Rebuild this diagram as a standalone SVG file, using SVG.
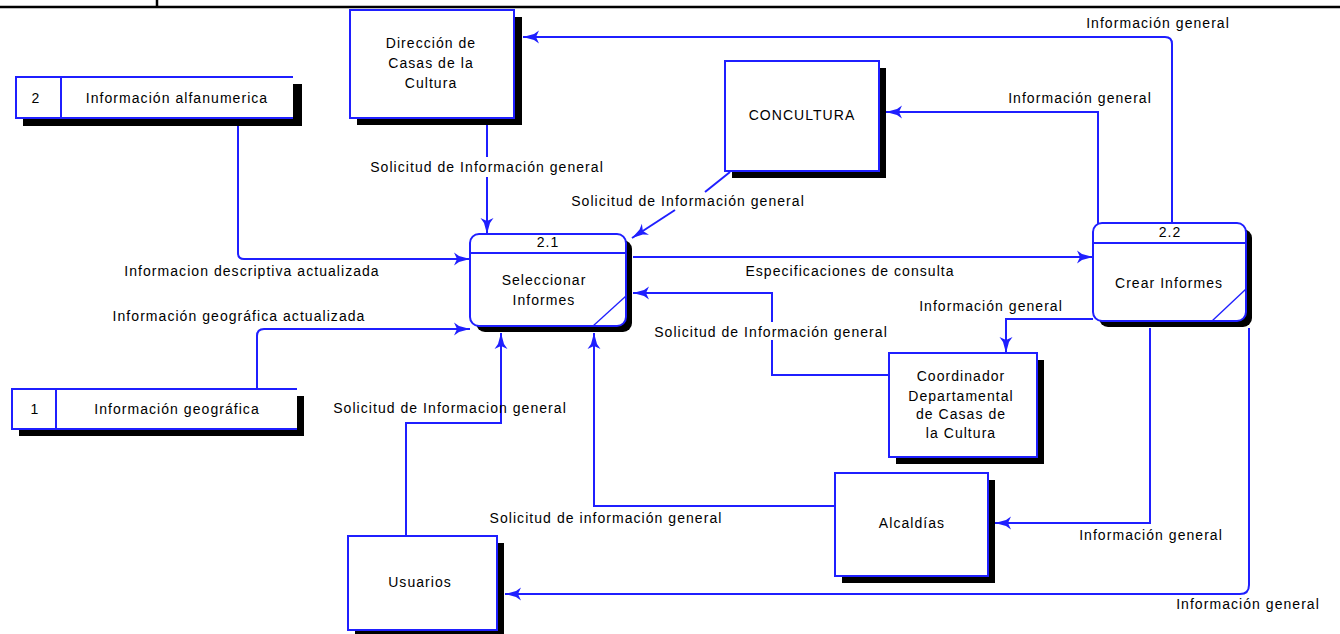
<svg xmlns="http://www.w3.org/2000/svg" width="1340" height="634" viewBox="0 0 1340 634">
  <style>
    text { font-family: "Liberation Sans", Arial, sans-serif; font-size: 14px; letter-spacing: 1.05px; fill: #000; text-anchor: middle; }
    .box { fill: #fff; stroke: #1f1fff; stroke-width: 2; }
    .shadow { fill: #000; }
    .edge { fill: none; stroke: #1f1fff; stroke-width: 2; }
    .flow { fill: none; stroke: #1f1fff; stroke-width: 2; marker-end: url(#arrow); }
    .frame { stroke: #000; stroke-width: 2.5; fill: none; }
    .thin { stroke: #1f1fff; stroke-width: 1.3; fill: none; }
  </style>
  <defs>
    <!-- arrowhead with flared tail barbs -->
    <marker id="arrow" markerUnits="userSpaceOnUse" markerWidth="18" markerHeight="14" viewBox="-17 -7 18 14" refX="0" refY="0" orient="auto">
      <path d="M0,0 L-11,-3 L-16,-6.5 L-13,0 L-16,6.5 L-11,3 Z" fill="#1f1fff"/>
    </marker>
  </defs>

  <rect x="0" y="0" width="1340" height="634" fill="#fff"/>

  <!-- page frame -->
  <g id="frame">
    <line class="frame" x1="0" y1="7" x2="1340" y2="7"/>
    <line class="frame" x1="157" y1="0" x2="157" y2="7"/>
  </g>

  <!-- connectors -->
  <g id="connectors">
    <path class="flow" d="M238,118 V253 Q238,259 244,259 H470"/>
    <path class="flow" d="M257,389 V336 Q257,329 264,329 H470"/>
    <path class="edge" d="M487,125 V157"/>
    <path class="flow" d="M487,177 V234"/>
    <path class="edge" d="M730,172 L705,192"/>
    <path class="flow" d="M675,210 L632,238"/>
    <path class="flow" d="M633,257 H1093"/>
    <path class="flow" d="M1098,225 V112 H886"/>
    <path class="flow" d="M1172,223 V44 Q1172,37 1165,37 H523"/>
    <path class="flow" d="M1093,319 H1006 V353"/>
    <path class="edge" d="M889,375 H772 V340"/>
    <path class="flow" d="M772,322 V293 H633"/>
    <path class="flow" d="M835,506 H594 V333"/>
    <path class="flow" d="M1150,328 V523 H995"/>
    <path class="flow" d="M1249,328 V585 Q1249,594 1240,594 H505"/>
    <path class="flow" d="M406,536 V423 H501 V333"/>

    <text x="1158" y="28">Información general</text>
    <text x="1080" y="103">Información general</text>
    <text x="487" y="172">Solicitud de Información general</text>
    <text x="688" y="206">Solicitud de Información general</text>
    <text x="252" y="276">Informacion descriptiva actualizada</text>
    <text x="239" y="321">Información geográfica actualizada</text>
    <text x="850" y="276">Especificaciones de consulta</text>
    <text x="991" y="311">Información general</text>
    <text x="771" y="337">Solicitud de Información general</text>
    <text x="450" y="413">Solicitud de Informacion general</text>
    <text x="606" y="523">Solicitud de información general</text>
    <text x="1151" y="540">Información general</text>
    <text x="1248" y="609">Información general</text>
  </g>

  <!-- data store 2 -->
  <g id="store-2">
    <rect class="shadow" x="23" y="84" width="279" height="42"/>
    <rect x="16" y="77" width="277" height="41" fill="#fff"/>
    <path class="edge" d="M293,77 H16 V118 H293 M61,77 V118"/>
    <text x="36" y="103">2</text>
    <text x="177" y="103">Información alfanumerica</text>
  </g>

  <!-- data store 1 -->
  <g id="store-1">
    <rect class="shadow" x="19" y="396" width="285" height="40"/>
    <rect x="12" y="389" width="285" height="40" fill="#fff"/>
    <path class="edge" d="M297,389 H12 V429 H297 M56,389 V429"/>
    <text x="35" y="414">1</text>
    <text x="177" y="414">Información geográfica</text>
  </g>

  <!-- external entities -->
  <g id="direccion">
    <rect class="shadow" x="357" y="17" width="165" height="108"/>
    <rect class="box" x="350" y="10" width="164" height="108"/>
    <text x="431" y="48">Dirección de</text>
    <text x="431" y="68">Casas de la</text>
    <text x="431" y="88">Cultura</text>
  </g>

  <g id="concultura">
    <rect class="shadow" x="732" y="68" width="154" height="110"/>
    <rect class="box" x="725" y="61" width="154" height="110"/>
    <text x="802" y="120">CONCULTURA</text>
  </g>

  <g id="coordinador">
    <rect class="shadow" x="896" y="360" width="148" height="104"/>
    <rect class="box" x="889" y="353" width="148" height="104"/>
    <text x="961" y="381">Coordinador</text>
    <text x="961" y="401">Departamental</text>
    <text x="961" y="419">de Casas de</text>
    <text x="961" y="438">la Cultura</text>
  </g>

  <g id="alcaldias">
    <rect class="shadow" x="842" y="480" width="153" height="103"/>
    <rect class="box" x="835" y="473" width="153" height="103"/>
    <text x="912" y="528">Alcaldías</text>
  </g>

  <g id="usuarios">
    <rect class="shadow" x="355" y="543" width="149" height="94"/>
    <rect class="box" x="348" y="536" width="149" height="94"/>
    <text x="420" y="587">Usuarios</text>
  </g>

  <!-- processes -->
  <g id="process-2-1">
    <rect class="shadow" x="476" y="240" width="156" height="92" rx="9"/>
    <rect class="box" x="470" y="234" width="156" height="92" rx="9"/>
    <line class="edge" x1="470" y1="253" x2="626" y2="253"/>
    <line class="thin" x1="593" y1="326" x2="626" y2="296"/>
    <text x="548" y="247">2.1</text>
    <text x="544" y="285">Seleccionar</text>
    <text x="544" y="305">Informes</text>
  </g>

  <g id="process-2-2">
    <rect class="shadow" x="1099" y="229" width="153" height="98" rx="9"/>
    <rect class="box" x="1093" y="223" width="153" height="98" rx="9"/>
    <line class="edge" x1="1093" y1="243" x2="1246" y2="243"/>
    <line class="thin" x1="1212" y1="321" x2="1246" y2="289"/>
    <text x="1170" y="237">2.2</text>
    <text x="1169" y="288">Crear Informes</text>
  </g>
</svg>
